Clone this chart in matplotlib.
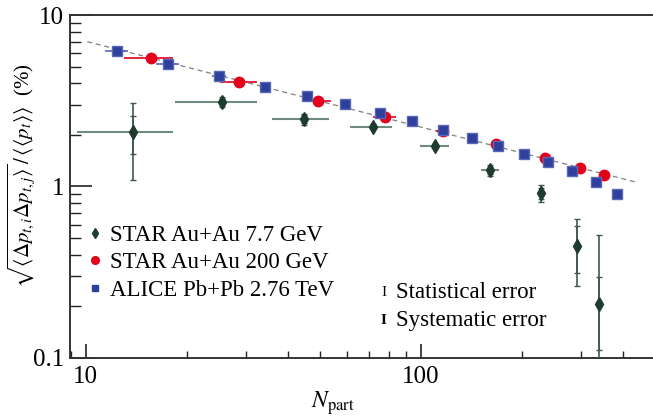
import numpy as np
import matplotlib
matplotlib.use('Agg')
import matplotlib.pyplot as plt
from matplotlib.lines import Line2D
from matplotlib.ticker import LogLocator, NullFormatter, FixedLocator, FixedFormatter

plt.rcParams['font.family'] = 'serif'
plt.rcParams['font.serif'] = ['Liberation Serif', 'DejaVu Serif']
plt.rcParams['mathtext.fontset'] = 'stix'

# -----------------------------
# ALICE Pb+Pb 2.76 TeV
# -----------------------------
alice_n = [12.4, 17.6, 25.0, 34.3, 45.6, 59.3, 75.4, 94.2, 116.6, 141.9, 170.2, 202.6, 240, 282.8, 332.3, 384.6]
alice_v = [6.19, 5.18, 4.39, 3.80, 3.38, 3.01, 2.69, 2.40, 2.13, 1.93, 1.716, 1.554, 1.39, 1.236, 1.067, 0.904]
alice_nerr = [1.0, 1.4, 1.2, 1.2, 1.4, 1.5, 1.7, 1.8, 2.0, 2.0, 2.2, 2.2, 2.4, 2.6, 2.8, 2.8]
alice_verr = [0.08, 0.07, 0.07, 0.06, 0.06, 0.05, 0.05, 0.04, 0.04, 0.03, 0.03, 0.03, 0.03, 0.03, 0.04, 0.04]

# -----------------------------
# STAR Au+Au 200 GeV
# -----------------------------
star200_n = [15.6, 28.7, 49.2, 78.1, 116.0, 167.5, 234.4, 298.9, 352.5]
star200_v = [5.59, 4.05, 3.15, 2.55, 2.12, 1.76, 1.466, 1.277, 1.162]
star200_nerr = [2.6, 3.6, 4.6, 6.0, 5.0, 5.0, 5.0, 5.0, 4.0]

# -----------------------------
# STAR Au+Au 7.7 GeV
# -----------------------------
star77_n = [13.8, 25.5, 44.7, 71.8, 110.1, 160.7, 227.5, 292.3, 339.8]
star77_v = [2.07, 3.12, 2.48, 2.23, 1.72, 1.243, 0.913, 0.452, 0.2056]
star77_nlo = [4.4, 7.0, 8.8, 10.4, 10.8, 10.2, 0.0, 0.0, 0.0]
star77_nhi = [4.4, 7.0, 8.5, 10.0, 10.9, 10.3, 0.0, 0.0, 0.0]
# statistical error bounds
star77_stat_hi = [3.05, 3.33, 2.66, 2.30, 1.77, 1.335, 1.02, 0.646, 0.521]
star77_stat_lo = [1.09, 2.91, 2.28, 2.16, 1.67, 1.151, 0.815, 0.263, 0.09]
# systematic error bounds
star77_sys_hi = [2.59, 3.25, 2.60, 2.28, 1.76, 1.30, 0.98, 0.589, 0.298]
star77_sys_lo = [1.55, 2.98, 2.35, 2.18, 1.68, 1.18, 0.85, 0.312, 0.111]

# reference power-law line (end points)
line_n = [10.1, 440]
line_v = [6.99, 1.058]

legend_labels = ['STAR Au+Au 7.7 GeV', 'STAR Au+Au 200 GeV', 'ALICE Pb+Pb 2.76 TeV']

green = '#1e3b2e'
green_light = '#6f8c7e'
red = '#e3001b'
blue = '#2f3f9c'

fig = plt.figure(figsize=(6.53, 4.19), dpi=100)
ax = fig.add_axes([0.107, 0.1456, 0.8915, 0.8186])

ax.plot(line_n, line_v, linestyle=(0, (4, 3)), color='#808080', linewidth=0.9, zorder=1)

a = np.array
ax.errorbar(star200_n, star200_v, xerr=star200_nerr, fmt='o', color=red, ms=7.5,
            mec=red, elinewidth=1.2, capsize=0, zorder=3)
ax.errorbar(alice_n, alice_v, xerr=alice_nerr, yerr=alice_verr, fmt='s', color=blue, ms=7.5,
            mec='#5a67b5', ecolor='#5a67b5', elinewidth=1.2, capsize=0, zorder=4)

v77 = a(star77_v)
ax.errorbar(star77_n, star77_v, xerr=[star77_nlo, star77_nhi], fmt='none',
            ecolor=green_light, elinewidth=1.5, capsize=0, zorder=5)
ax.errorbar(star77_n, star77_v, yerr=[v77 - a(star77_stat_lo), a(star77_stat_hi) - v77],
            fmt='none', ecolor='#3e5a4c', elinewidth=1.2, capsize=2, capthick=1, zorder=5)
ax.errorbar(star77_n, star77_v, yerr=[v77 - a(star77_sys_lo), a(star77_sys_hi) - v77],
            fmt='none', ecolor='#3e5a4c', elinewidth=1.2, capsize=2.5, capthick=1, zorder=5)
ax.plot(star77_n, star77_v, 'd', color=green, ms=7, zorder=6)

ax.set_xscale('log')
ax.set_yscale('log')
ax.set_xlim(8.96, 489)
ax.set_ylim(0.1, 10)

ax.xaxis.set_major_locator(FixedLocator([10, 100]))
ax.xaxis.set_major_formatter(FixedFormatter(['10', '100']))
ax.xaxis.set_minor_locator(LogLocator(base=10, subs=np.arange(2, 10)))
ax.xaxis.set_minor_formatter(NullFormatter())
ax.yaxis.set_major_locator(FixedLocator([0.1, 1, 10]))
ax.yaxis.set_major_formatter(FixedFormatter(['0.1', '1', '10']))
ax.yaxis.set_minor_locator(LogLocator(base=10, subs=np.arange(2, 10)))
ax.yaxis.set_minor_formatter(NullFormatter())

ax.tick_params(which='both', direction='in', top=False, right=False, labelsize=18, colors='#222222')
ax.tick_params(axis='x', which='major', length=10, width=1.2, pad=6)
ax.tick_params(axis='x', which='minor', length=5, width=1.0)
ax.tick_params(axis='y', which='major', length=16, width=1.2, pad=4)
ax.tick_params(axis='y', which='minor', length=8, width=1.0)
ax.tick_params(axis='both', labelcolor='black')

ax.spines['right'].set_visible(False)
for s in ['left', 'bottom', 'top']:
    ax.spines[s].set_linewidth(1.4)
    ax.spines[s].set_color('#333333')

ax.set_xlabel(r'$N_{\mathrm{part}}$', fontsize=17)
ax.xaxis.set_label_coords(0.452, -0.09)
ax.set_ylabel(r'$\sqrt{\langle\Delta p_{t,i}\Delta p_{t,j}\rangle}\,/\,\langle\langle p_t\rangle\rangle$  (%)',
              fontsize=15)
ax.yaxis.set_label_coords(-0.057, 0.53)

leg_h = [Line2D([], [], marker='d', color=green, ls='none', ms=5),
         Line2D([], [], marker='o', color=red, ls='none', ms=5.5),
         Line2D([], [], marker='s', color=blue, ls='none', ms=5)]
ax.legend(leg_h, legend_labels, loc='upper left', bbox_to_anchor=(0.016, 0.415),
          frameon=False, handlelength=0.6, handletextpad=0.35, labelspacing=0.28,
          borderaxespad=0, prop={'size': 16.5})

ax.text(0.539, 0.19, 'I', transform=ax.transAxes, fontsize=11, va='center', ha='center')
ax.text(0.560, 0.19, 'Statistical error', transform=ax.transAxes, fontsize=16.5, va='center')
ax.text(0.539, 0.108, 'I', transform=ax.transAxes, fontsize=11, va='center', ha='center',
        fontweight='bold')
ax.text(0.560, 0.108, 'Systematic error', transform=ax.transAxes, fontsize=16.5, va='center')

fig.savefig('out.png', dpi=100)
